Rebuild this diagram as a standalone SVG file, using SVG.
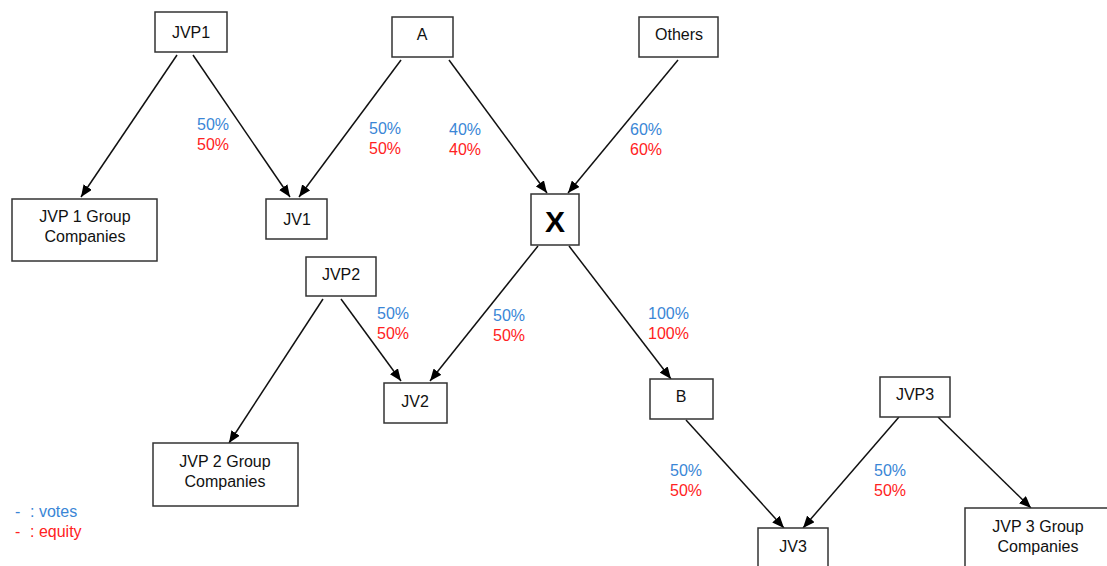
<svg xmlns="http://www.w3.org/2000/svg" width="1107" height="566" viewBox="0 0 1107 566">
<defs>
<marker id="ah" markerWidth="12" markerHeight="10" refX="12" refY="5" orient="auto" markerUnits="userSpaceOnUse">
<path d="M0,0 L12,5 L0,10 Z" fill="#000"/>
</marker>
<style>
.box{fill:#fff;stroke:#333;stroke-width:1.5}
.t{font-family:"Liberation Sans",Arial,sans-serif;font-size:16px;fill:#111;text-anchor:middle}
.x{font-family:"Liberation Sans",Arial,sans-serif;font-size:30px;font-weight:bold;fill:#000;text-anchor:middle}
.v{font-family:"Liberation Sans",Arial,sans-serif;font-size:16px;fill:#3a86d6}
.e{font-family:"Liberation Sans",Arial,sans-serif;font-size:16px;fill:#ff2222}
.c{stroke:#111;stroke-width:1.5;fill:none;marker-end:url(#ah)}
</style>
</defs>
<rect width="1107" height="566" fill="#fff"/>
<g id="connectors">
<line class="c" x1="177" y1="55" x2="81" y2="197"/>
<line class="c" x1="193" y1="55" x2="290" y2="197"/>
<line class="c" x1="401" y1="60" x2="299" y2="197"/>
<line class="c" x1="449" y1="60" x2="547" y2="193"/>
<line class="c" x1="678" y1="60" x2="568" y2="193"/>
<line class="c" x1="538" y1="246" x2="430" y2="381"/>
<line class="c" x1="569" y1="246" x2="671" y2="379"/>
<line class="c" x1="323" y1="299" x2="229" y2="443"/>
<line class="c" x1="341" y1="299" x2="401" y2="381"/>
<line class="c" x1="686" y1="420" x2="784" y2="528"/>
<line class="c" x1="899" y1="417" x2="803" y2="528"/>
<line class="c" x1="938" y1="417" x2="1031" y2="508"/>
</g>
<g id="labels">
<text class="v" x="197" y="130">50%</text><text class="e" x="197" y="150">50%</text>
<text class="v" x="369" y="134">50%</text><text class="e" x="369" y="154">50%</text>
<text class="v" x="449" y="135">40%</text><text class="e" x="449" y="155">40%</text>
<text class="v" x="630" y="135">60%</text><text class="e" x="630" y="155">60%</text>
<text class="v" x="493" y="321">50%</text><text class="e" x="493" y="341">50%</text>
<text class="v" x="648" y="319">100%</text><text class="e" x="648" y="339">100%</text>
<text class="v" x="377" y="319">50%</text><text class="e" x="377" y="339">50%</text>
<text class="v" x="670" y="476">50%</text><text class="e" x="670" y="496">50%</text>
<text class="v" x="874" y="476">50%</text><text class="e" x="874" y="496">50%</text>
</g>
<g id="legend">
<text class="v" x="15" y="517">-</text><text class="v" x="30" y="517">: votes</text>
<text class="e" x="15" y="537">-</text><text class="e" x="30" y="537">: equity</text>
</g>
<g id="JVP1"><rect class="box" x="155" y="12" width="72" height="40"/><text class="t" x="191" y="38">JVP1</text></g>
<g id="A"><rect class="box" x="392" y="17" width="61" height="40"/><text class="t" x="422" y="40">A</text></g>
<g id="Others"><rect class="box" x="639" y="17" width="79" height="40"/><text class="t" x="679" y="40">Others</text></g>
<g id="JVP1G"><rect class="box" x="12" y="199" width="145" height="62"/><text class="t" x="85" y="222">JVP 1 Group</text><text class="t" x="85" y="242">Companies</text></g>
<g id="JV1"><rect class="box" x="266" y="199" width="61" height="40"/><text class="t" x="297" y="225">JV1</text></g>
<g id="X"><rect class="box" x="531" y="194" width="48" height="51"/><text class="x" x="555" y="232">X</text></g>
<g id="JVP2"><rect class="box" x="306" y="257" width="70" height="39"/><text class="t" x="341" y="280">JVP2</text></g>
<g id="JV2"><rect class="box" x="384" y="383" width="63" height="40"/><text class="t" x="415" y="407">JV2</text></g>
<g id="JVP2G"><rect class="box" x="153" y="443" width="145" height="63"/><text class="t" x="225" y="467">JVP 2 Group</text><text class="t" x="225" y="487">Companies</text></g>
<g id="B"><rect class="box" x="650" y="379" width="63" height="40"/><text class="t" x="681" y="402">B</text></g>
<g id="JVP3"><rect class="box" x="880" y="377" width="70" height="40"/><text class="t" x="915" y="400">JVP3</text></g>
<g id="JV3"><rect class="box" x="758" y="528" width="70" height="45"/><text class="t" x="793" y="552">JV3</text></g>
<g id="JVP3G"><rect class="box" x="965" y="508" width="150" height="65"/><text class="t" x="1038" y="532">JVP 3 Group</text><text class="t" x="1038" y="552">Companies</text></g>
</svg>
